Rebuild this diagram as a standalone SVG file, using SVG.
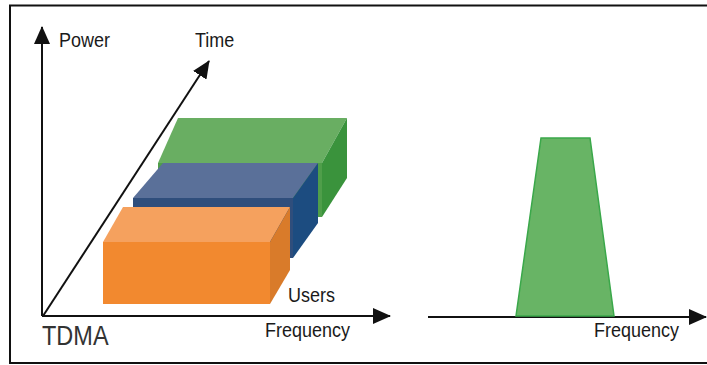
<svg xmlns="http://www.w3.org/2000/svg" width="707" height="365" viewBox="0 0 707 365">
<style>
.axis{stroke:#111;stroke-width:2;fill:none}
.lbl{font-family:"Liberation Sans",Arial,sans-serif;font-size:18px;fill:#1a1a1a}
</style>
<defs>
<marker id="arr" markerUnits="userSpaceOnUse" markerWidth="20" markerHeight="16" refX="17" refY="8" orient="auto">
<path d="M0,0 L18,8 L0,16 Z" fill="#111"/>
</marker>
</defs>
<rect width="707" height="365" fill="#fff"/>
<path d="M707,5.5 H10 V363 H707" stroke="#111" stroke-width="2" fill="none"/>
<g id="connectors">
<line class="axis" x1="42" y1="316" x2="42" y2="27" marker-end="url(#arr)"/>
<line class="axis" x1="42" y1="316" x2="390" y2="316" marker-end="url(#arr)"/>
<line class="axis" stroke-width="1.5" x1="43" y1="316" x2="209" y2="61" marker-end="url(#arr)"/>
<line class="axis" x1="428" y1="317" x2="706" y2="317" marker-end="url(#arr)"/>
</g>
<g id="green-box">
<polygon points="158,163 322,163 322,217 158,217" fill="#4f9e4a"/>
<polygon points="178,118 347,118 322,163 158,163" fill="#69ae62"/>
<polygon points="322,163 347,118 347,178 322,217" fill="#3a933c"/>
</g>
<g id="blue-box">
<polygon points="133,198 293,198 293,258 133,258" fill="#2f4e7c"/>
<polygon points="163,163 318,163 293,198 133,198" fill="#5a7099"/>
<polygon points="293,198 318,163 318,223 293,258" fill="#1c4c80"/>
</g>
<g id="orange-box">
<polygon points="123,207 290,207 270,242 103,242" fill="#f5a15e"/>
<polygon points="103,242 270,242 270,304 103,304" fill="#f2892f"/>
<polygon points="270,242 290,207 290,270 270,304" fill="#d97b2a"/>
</g>
<g id="spectrum">
<polygon points="541,138 590,138 614,316 516,316" fill="#68b465" stroke="#3aa84a" stroke-width="1.5"/>
</g>
<g id="labels">
<text class="lbl" transform="translate(59,47) scale(1,1.12)">Power</text>
<text class="lbl" transform="translate(195,47) scale(1,1.12)">Time</text>
<text class="lbl" transform="translate(288,302) scale(1,1.12)">Users</text>
<text class="lbl" transform="translate(265,337) scale(1,1.12)">Frequency</text>
<text class="lbl" transform="translate(594,337) scale(1,1.12)">Frequency</text>
<text class="lbl" style="font-size:23.5px;fill:#333" transform="translate(42,345) scale(1,1.15)">TDMA</text>
</g>
</svg>
